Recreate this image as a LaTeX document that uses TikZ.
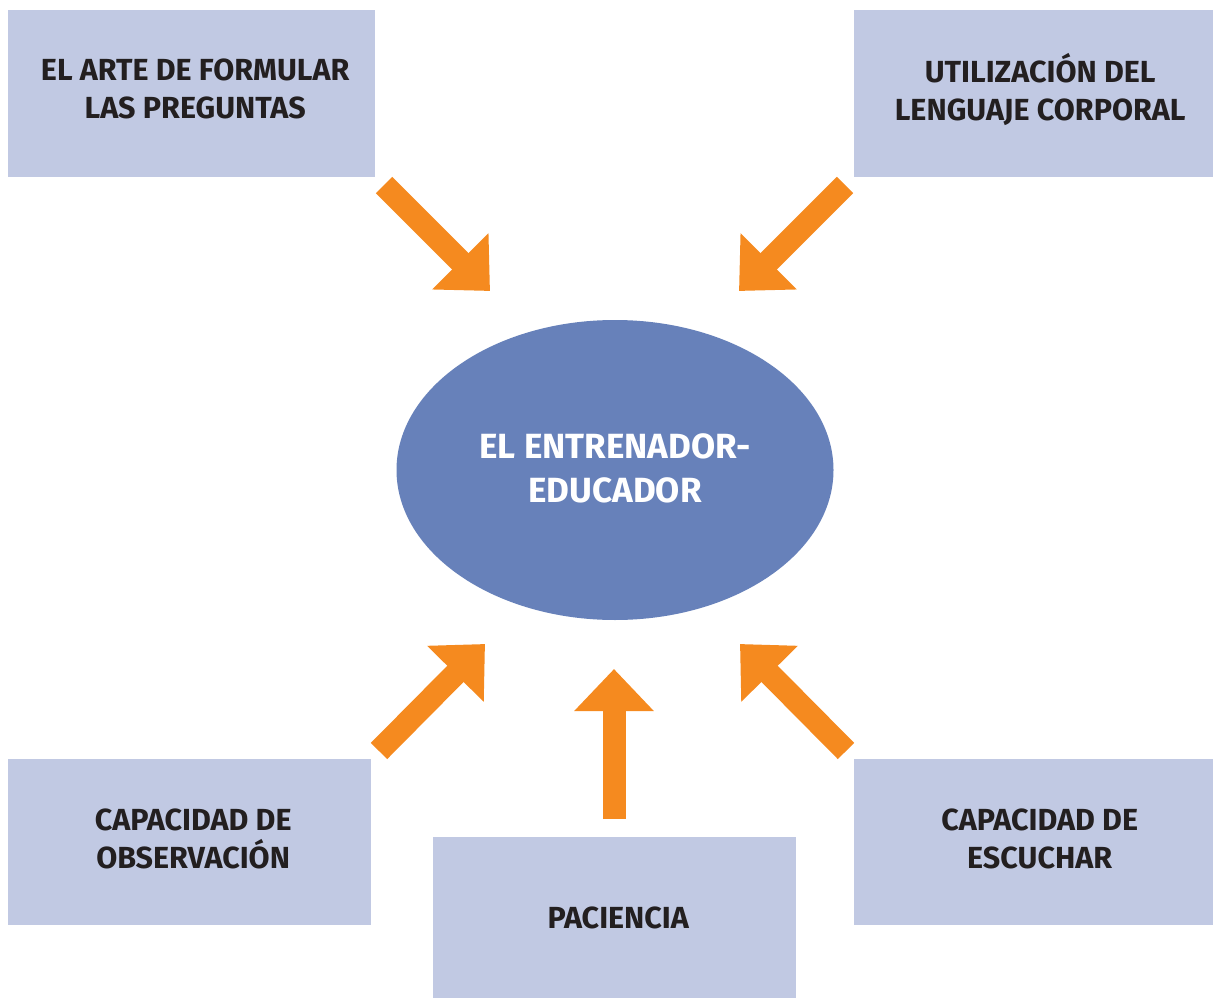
\documentclass[tikz,border=0pt]{standalone}
\usepackage{fontspec}
\setmainfont{Fira Sans}
\usetikzlibrary{arrows.meta,shapes.geometric}
\definecolor{boxblue}{HTML}{C1C9E3}
\definecolor{ellblue}{HTML}{6781BA}
\definecolor{arrorange}{HTML}{F58A1F}
\definecolor{txt}{HTML}{231F20}
\begin{document}
\begin{tikzpicture}[x=1pt,y=-1pt,
  boxnode/.style={fill=boxblue, draw=none, inner sep=0pt, anchor=north west},
  boxtext/.style={align=center, inner sep=0pt, font=\fontsize{30.5}{38}\selectfont\bfseries, text=txt},
  bigarrow/.style={draw=arrorange, line width=23pt, line cap=butt,
    -{Triangle[length=42pt,width=77pt]}}]
\useasboundingbox (0,0) rectangle (1213,998);
\node[boxnode, minimum width=367pt, minimum height=167pt] (tl) at (8,10) {};
\node[boxnode, minimum width=359pt, minimum height=167pt] (tr) at (854,10) {};
\node[boxnode, minimum width=363pt, minimum height=166pt] (bl) at (8,759) {};
\node[boxnode, minimum width=363pt, minimum height=161pt] (bm) at (433,837) {};
\node[boxnode, minimum width=359pt, minimum height=166pt] (br) at (854,759) {};
\node[boxtext] (tlt) at ([xshift=3.5pt,yshift=4.5pt]tl.center) {EL ARTE DE FORMULAR\\LAS PREGUNTAS};
\node[boxtext] (trt) at ([xshift=6.5pt,yshift=4.5pt]tr.center) {UTILIZACIÓN DEL\\LENGUAJE CORPORAL};
\node[boxtext] (blt) at ([xshift=3.5pt,yshift=3.5pt]bl.center) {CAPACIDAD DE\\OBSERVACIÓN};
\node[boxtext] (bmt) at ([xshift=3.5pt,yshift=-0.5pt]bm.center) {PACIENCIA};
\node[boxtext] (brt) at ([xshift=6pt,yshift=3.5pt]br.center) {CAPACIDAD DE\\ESCUCHAR};
\node[ellipse, fill=ellblue, minimum width=437pt, minimum height=300pt, inner sep=0pt] (c) at (615,470) {};
\node[align=center, inner sep=0pt, text=white, font=\fontsize{35}{44}\selectfont\bfseries] (ct) at ([yshift=2pt]c.center) {EL ENTRENADOR-\\EDUCADOR};
\coordinate (a1s) at (384,185); \coordinate (a1e) at (490,291);
\coordinate (a2s) at (845,185); \coordinate (a2e) at (739,291);
\coordinate (a3s) at (379,751); \coordinate (a3e) at (485,644);
\coordinate (a4s) at (846,751); \coordinate (a4e) at (740,644);
\coordinate (a5s) at (614,819); \coordinate (a5e) at (614,669);
\draw[bigarrow] (a1s) -- (a1e);
\draw[bigarrow] (a2s) -- (a2e);
\draw[bigarrow] (a3s) -- (a3e);
\draw[bigarrow] (a4s) -- (a4e);
\draw[bigarrow] (a5s) -- (a5e);
\end{tikzpicture}
\end{document}
